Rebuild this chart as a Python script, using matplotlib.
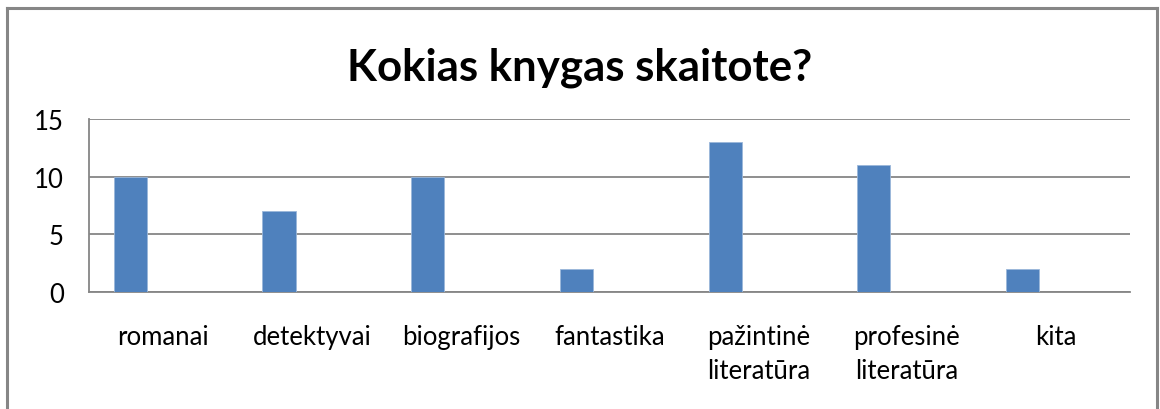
import matplotlib.pyplot as plt
import numpy as np

# duomenys
kategorijos = ['romanai', 'detektyvai', 'biografijos', 'fantastika',
               'pažintinė\nliteratūra', 'profesinė\nliteratūra', 'kita']
reiksmes = [10, 7, 10, 2, 13, 11, 2]
y_ticks = [0, 5, 10, 15]

plt.rcParams['font.family'] = ['Lato', 'DejaVu Sans']

fig = plt.figure(figsize=(11.6, 4.1), dpi=100)
ax = fig.add_axes([89/1160, 1-293/410, (1130-89)/1160, (293-120)/410])

# Excel stiliaus stulpeliai: 3 serijos, tarpas 150%
w = 1/4.5
x = np.arange(len(kategorijos))
ax.bar(x - 0.5 + 0.75*w, reiksmes, width=w, align='edge',
       color='#4F81BD', edgecolor='#9bb7da', linewidth=0.6, zorder=3)

ax.set_xlim(-0.5, len(kategorijos) - 0.5)
ax.set_ylim(0, 15)
ax.set_yticks(y_ticks)
ax.set_xticks(x)
ax.set_xticklabels(kategorijos, fontsize=18.5, linespacing=1.45)
ax.tick_params(axis='both', length=0, labelsize=18.5)
ax.tick_params(axis='x', pad=23)
ax.tick_params(axis='y', pad=18)
ax.yaxis.grid(True, color='#868686', linewidth=1.3, zorder=0)

for s in ['top', 'right']:
    ax.spines[s].set_visible(False)
for s in ['left', 'bottom']:
    ax.spines[s].set_color('#868686')
    ax.spines[s].set_linewidth(1.3)

# Pavadinimas
fig.text(580/1160, 1-68/410, 'Kokias knygas skaitote?', fontsize=31.5,
         fontweight='bold', ha='center', va='center')

# Rėmelis aplink diagramą
kw = dict(color='#868686', linewidth=2.2, transform=fig.transFigure)
fig.add_artist(plt.Line2D([7/1160, 7/1160], [0, 1-9/410], **kw))
fig.add_artist(plt.Line2D([1157/1160, 1157/1160], [0, 1-9/410], **kw))
fig.add_artist(plt.Line2D([7/1160, 1157/1160], [1-9/410, 1-9/410], **kw))

plt.savefig('out.png', dpi=100)
